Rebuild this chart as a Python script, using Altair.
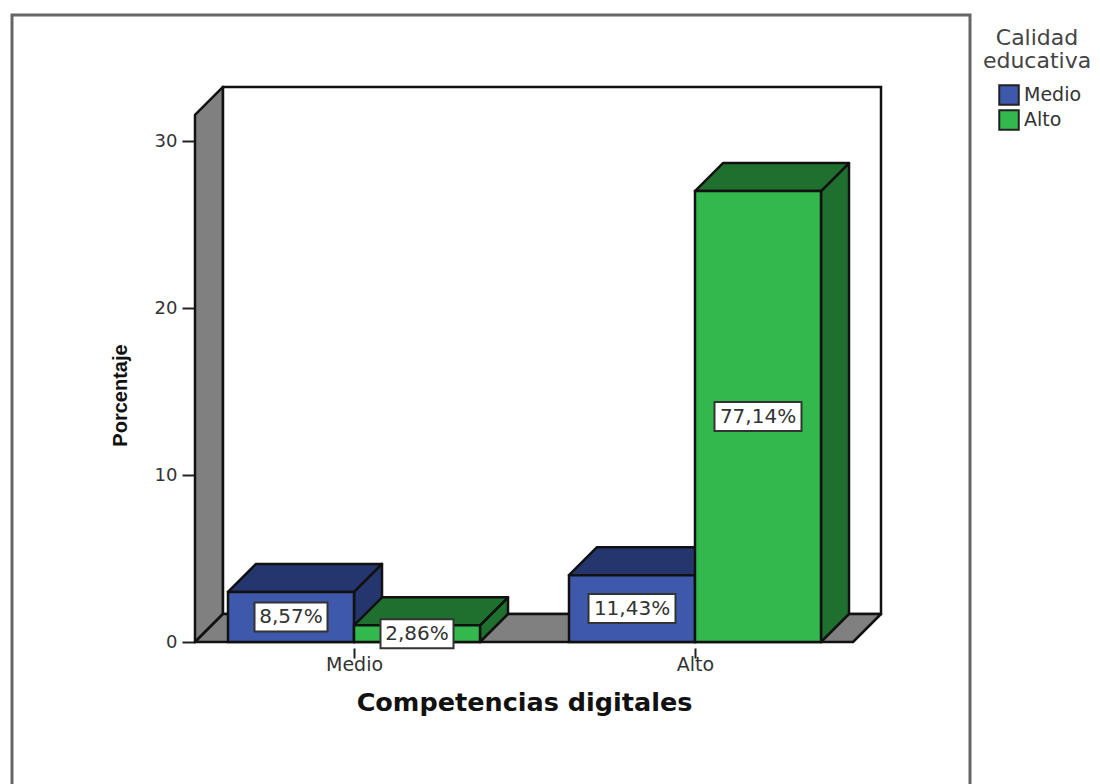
import altair as alt
import pandas as pd

categorias = ["Medio", "Alto"]
series = ["Medio", "Alto"]
valores_medio = [3, 4]
valores_alto = [1, 27]
etiquetas_medio = ["8,57%", "11,43%"]
etiquetas_alto = ["2,86%", "77,14%"]
ticks_y = [0, 10, 20, 30]

# Layout, in scale units: x is measured in canvas pixels, y in axis percent
X_MIN, X_MAX = 12, 970
PX_Y = 16.7
Y_MIN, Y_MAX = -148 / PX_Y, 627 / PX_Y
PLOT_W, PLOT_H = X_MAX - X_MIN, 775
DX = 28
DY = DX / PX_Y
WALL_X = 195
FLOOR_X = 853
WALL_TOP = 31.56
CENTROS = [354, 695]
ANCHO = 126
CAJA_ALTO = 14.5 / PX_Y

AZUL, AZUL_OSC = "#3E58AC", "#25366F"
VERDE, VERDE_OSC = "#32B84C", "#1F702F"
GRIS = "#808080"
TRAZO = "#111111"
GROSOR = 2.5

xs = alt.Scale(domain=[X_MIN, X_MAX], nice=False, zero=False)
ys = alt.Scale(domain=[Y_MIN, Y_MAX], nice=False, zero=False)

eje_x = alt.Axis(
    title="Competencias digitales",
    values=CENTROS,
    labelExpr=f"datum.value == {CENTROS[0]} ? '{categorias[0]}' : '{categorias[1]}'",
    grid=False,
    domain=False,
    offset=-142,
    tickSize=10,
    tickWidth=2,
    tickColor="#222222",
    labelFont="DejaVu Sans",
    labelFontSize=19,
    labelColor="#333333",
    labelPadding=-3,
    labelFlush=False,
    titleFont="DejaVu Sans",
    titleFontSize=25.5,
    titleFontWeight="bold",
    titleColor="#111111",
    titleX=512,
    titleY=62,
    titleBaseline="alphabetic",
)
eje_y = alt.Axis(
    title="Porcentaje",
    values=ticks_y,
    grid=False,
    domain=False,
    offset=-183,
    tickSize=13,
    tickWidth=2,
    tickColor="#222222",
    labelFont="DejaVu Sans",
    labelFontSize=18,
    labelColor="#333333",
    labelPadding=5,
    labelFlush=False,
    titleFont="Liberation Sans",
    titleFontSize=20,
    titleFontWeight="bold",
    titleColor="#111111",
    titleX=-69,
    titleY=380,
    titleAngle=270,
    titleBaseline="alphabetic",
)
ENC_X = alt.X("x:Q", scale=xs, axis=eje_x)
ENC_Y = alt.Y("y:Q", scale=ys, axis=eje_y)


def poligono(puntos, color):
    df = pd.DataFrame(puntos, columns=["x", "y", "y2"])
    return alt.Chart(df).mark_area(
        fill=color, stroke=TRAZO, strokeWidth=GROSOR, strokeJoin="round", opacity=1
    ).encode(x=ENC_X, y=ENC_Y, y2="y2:Q")


etiqueta_capas = []
capas = []

# Walls and floor
capas.append(
    poligono(
        [
            [WALL_X, WALL_TOP, 0],
            [WALL_X + DX, WALL_TOP + DY, DY],
        ],
        GRIS,
    )
)

fondo = pd.DataFrame(
    [{"x": WALL_X + DX, "x2": X_MIN + 869, "y": DY, "y2": WALL_TOP + DY}]
)
capas.append(
    alt.Chart(fondo)
    .mark_rect(fill="white", stroke=TRAZO, strokeWidth=GROSOR)
    .encode(x=ENC_X, x2="x2:Q", y=ENC_Y, y2="y2:Q")
)
capas.append(
    poligono(
        [
            [WALL_X, 0, 0],
            [WALL_X + DX, DY, 0],
            [FLOOR_X, DY, 0],
            [FLOOR_X + DX, DY, DY],
        ],
        GRIS,
    )
)

color_def = alt.Color(
    "serie:N",
    scale=alt.Scale(domain=series, range=[AZUL, VERDE]),
    legend=alt.Legend(
        title=["Calidad", "educativa"],
        orient="none",
        legendX=971,
        legendY=13,
        padding=0,
        titleFont="DejaVu Sans",
        titleFontSize=22,
        titleFontWeight="normal",
        titleColor="#444444",
        titleAlign="center",
        titleAnchor="middle",
        titleLineHeight=23,
        titlePadding=11,
        labelFont="DejaVu Sans",
        labelFontSize=19,
        labelColor="#333333",
        labelOffset=4,
        symbolType="square",
        symbolSize=380,
        symbolStrokeColor="#222222",
        symbolStrokeWidth=2,
        symbolOffset=6,
        rowPadding=-9,
    ),
)


def barra(izq, alto, serie, claro, oscuro):
    der = izq + ANCHO
    capas.append(
        poligono(
            [
                [der, alto, 0],
                [der + DX, alto + DY, DY],
            ],
            oscuro,
        )
    )
    capas.append(
        poligono(
            [
                [izq, alto, alto],
                [izq + DX, alto + DY, alto],
                [der, alto + DY, alto],
                [der + DX, alto + DY, alto + DY],
            ],
            oscuro,
        )
    )
    frente = pd.DataFrame(
        [{"x": izq, "x2": der, "y": 0, "y2": alto, "serie": serie}]
    )
    capas.append(
        alt.Chart(frente)
        .mark_rect(stroke=TRAZO, strokeWidth=GROSOR, opacity=1)
        .encode(x=ENC_X, x2="x2:Q", y=ENC_Y, y2="y2:Q", color=color_def)
    )


def etiqueta(cx, alto, texto):
    medio = alto / 2
    semi = 36.5 if len(texto) == 5 else 43.5
    caja = pd.DataFrame(
        [
            {
                "x": cx - semi,
                "x2": cx + semi,
                "y": medio - CAJA_ALTO,
                "y2": medio + CAJA_ALTO,
                "cx": cx,
                "cy": medio,
                "t": texto,
            }
        ]
    )
    etiqueta_capas.append(
        alt.Chart(caja)
        .mark_rect(fill="white", stroke="#333333", strokeWidth=2)
        .encode(x=ENC_X, x2="x2:Q", y=ENC_Y, y2="y2:Q")
    )
    etiqueta_capas.append(
        alt.Chart(caja)
        .mark_text(font="DejaVu Sans", fontSize=20, color="#333333", baseline="middle")
        .encode(
            x=alt.X("cx:Q", scale=xs, axis=eje_x),
            y=alt.Y("cy:Q", scale=ys, axis=eje_y),
            text="t:N",
        )
    )


for c, vm, va, em, ea in zip(
    CENTROS, valores_medio, valores_alto, etiquetas_medio, etiquetas_alto
):
    barra(c - ANCHO, vm, series[0], AZUL, AZUL_OSC)
    barra(c, va, series[1], VERDE, VERDE_OSC)
    etiqueta(c - ANCHO / 2, vm, em)
    etiqueta(c + ANCHO / 2, va, ea)

chart = (
    alt.layer(*(capas + etiqueta_capas))
    .properties(
        width=PLOT_W,
        height=PLOT_H,
        padding={"left": 4, "top": 7, "right": 122, "bottom": 0},
        autosize=alt.AutoSizeParams(type="none"),
        background="white",
    )
    .configure_view(stroke="#666666", strokeWidth=3)
)

chart.save("out.html", embed_options={"renderer": "svg", "actions": False})
